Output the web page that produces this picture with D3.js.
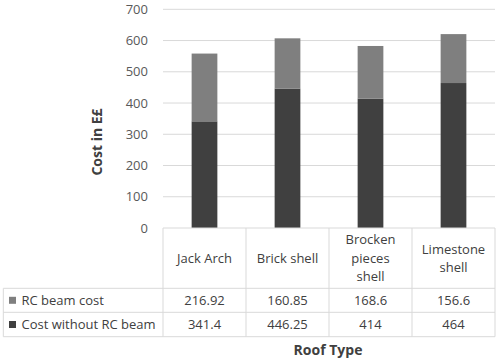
<!DOCTYPE html>
<html><head><meta charset="utf-8">
<script src="https://cdn.jsdelivr.net/npm/d3@7/dist/d3.min.js"></script>
<style>body{margin:0;background:#fff}svg{display:block}text{font-family:"Open Sans",sans-serif}</style>
</head><body><svg id="c" width="498" height="362"></svg>
<script>
const categories = [["Jack Arch"],["Brick shell"],["Brocken","pieces","shell"],["Limestone","shell"]];
const categoryKeys = ["Jack Arch","Brick shell","Brocken pieces shell","Limestone shell"];
const seriesNames = ["RC beam cost","Cost without RC beam"];
const rcBeam = [216.92, 160.85, 168.6, 156.6];
const withoutRc = [341.4, 446.25, 414, 464];
const rcBeamLabels = ["216.92","160.85","168.6","156.6"];
const withoutRcLabels = ["341.4","446.25","414","464"];
const yTicks = [0,100,200,300,400,500,600,700];
const colors = {"RC beam cost":"#7f7f7f","Cost without RC beam":"#404040"};

const svg = d3.select("#c");
const x0 = 163, x1 = 495, yTop = 9.3, yBot = 228;
const x = d3.scaleBand().domain(categoryKeys).range([x0,x1]).paddingInner(0).paddingOuter(0);
const y = d3.scaleLinear().domain([0,700]).range([yBot,yTop]);

// gridlines
svg.append("g").selectAll("line").data(yTicks.filter(d=>d>0)).join("line")
  .attr("x1",x0).attr("x2",x1).attr("y1",d=>y(d)).attr("y2",d=>y(d))
  .attr("stroke","#d9d9d9").attr("stroke-width",1);

// y axis labels
const yAxis = d3.axisLeft(y).tickValues(yTicks).tickSize(0).tickPadding(15);
const ga = svg.append("g").attr("transform",`translate(${x0},0)`).call(yAxis);
ga.select(".domain").remove();
ga.selectAll("text").attr("fill","#595959").style("font-size","13px").style("font-family","'Open Sans',sans-serif");

// stacked bars
const rows = categoryKeys.map((k,i)=>({key:k,"Cost without RC beam":withoutRc[i],"RC beam cost":rcBeam[i]}));
const stack = d3.stack().keys(["Cost without RC beam","RC beam cost"])(rows);
const bw = x.bandwidth()*0.31;
svg.append("g").selectAll("g").data(stack).join("g").attr("fill",d=>colors[d.key])
  .selectAll("rect").data(d=>d).join("rect")
  .attr("x",d=>x(d.data.key)+x.bandwidth()/2-bw/2).attr("width",bw)
  .attr("y",d=>y(d[1])).attr("height",d=>y(d[0])-y(d[1]));

// table
const tbl = svg.append("g");
const rTop = yBot, rHead = 288.3, r1 = 312.3, r2 = 336.7, tLeft = 3.3;
const stroke = "#d9d9d9";
function ln(a,b,c,d){tbl.append("line").attr("x1",a).attr("y1",b).attr("x2",c).attr("y2",d).attr("stroke",stroke).attr("stroke-width",1);}
ln(x0,rTop,x1,rTop);
ln(tLeft,rHead,x1,rHead);
ln(tLeft,r1,x1,r1);
ln(tLeft,r2,x1,r2);
ln(tLeft,rHead,tLeft,r2);
const cuts = categoryKeys.map(k=>x(k)).concat([x1]);
cuts.forEach(cx=>ln(cx,rTop,cx,r2));

// header text
categoryKeys.forEach((k,i)=>{
  const lines = categories[i];
  const cx = x(k)+x.bandwidth()/2;
  const lh = 18.3, mid = (rTop+rHead)/2;
  lines.forEach((t,j)=>{
    tbl.append("text").attr("x",cx).attr("y",mid+(j-(lines.length-1)/2)*lh).attr("dy","0.35em")
      .attr("text-anchor","middle").attr("fill","#404040").style("font-size","13px").text(t);
  });
});
const valRows = [{name:seriesNames[0],vals:rcBeamLabels,y0:rHead,y1:r1},{name:seriesNames[1],vals:withoutRcLabels,y0:r1,y1:r2}];
valRows.forEach(r=>{
  const cy=(r.y0+r.y1)/2;
  tbl.append("rect").attr("x",9).attr("y",cy-3.5).attr("width",7).attr("height",7).attr("fill",colors[r.name]);
  tbl.append("text").attr("x",21.5).attr("y",cy).attr("dy","0.35em").attr("fill","#404040").style("font-size","13px").text(r.name);
  r.vals.forEach((v,i)=>{
    tbl.append("text").attr("x",x(categoryKeys[i])+x.bandwidth()/2).attr("y",cy).attr("dy","0.35em")
      .attr("text-anchor","middle").attr("fill","#404040").style("font-size","13px").text(v);
  });
});

// axis titles
svg.append("text").attr("x",328).attr("y",350).attr("dy","0.35em").attr("text-anchor","middle")
  .attr("fill","#404040").style("font-size","14px").style("font-weight","bold").text("Roof Type");
svg.append("text").attr("transform","translate(97,142) rotate(-90)").attr("dy","0.35em").attr("text-anchor","middle")
  .attr("fill","#404040").style("font-size","14px").style("font-weight","bold").text("Cost in E£");
</script></body></html>
